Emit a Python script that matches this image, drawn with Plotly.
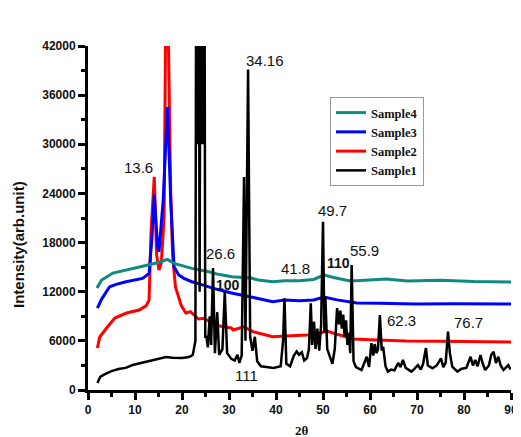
import plotly.graph_objects as go

# ---------------- data ----------------
s1_x = [2.0, 2.6, 3.5, 5.0, 6.5, 8.0, 9.5, 11.0, 13.0, 15.0, 16.6, 18.0, 20.0, 21.2, 21.8, 22.3, 22.6,
        22.85, 23.0, 23.15, 23.3, 23.45, 23.6, 23.75, 23.9, 24.05, 24.2, 24.35, 24.5, 24.65, 24.8, 24.95,
        25.2, 25.5, 25.9, 26.2, 26.6, 27.0, 27.5, 27.9, 28.6,
        29.1, 29.6, 30.5, 31.2, 31.8, 32.2, 32.7, 33.2, 33.5, 34.06, 34.5, 35.0, 35.5, 36.0, 36.8, 38.0,
        39.5, 41.0, 41.5, 41.8, 42.2, 43.0, 43.8, 44.4, 44.9, 45.5, 46.0, 46.6, 47.0, 47.4, 47.7, 48.1,
        48.4, 48.8, 49.2, 49.6, 50.0, 50.3, 50.5, 50.9, 51.4, 52.0, 52.5, 53.0, 53.4, 53.7, 54.0, 54.3,
        54.6, 54.9, 55.2, 55.5, 55.8, 56.1, 56.5, 57.0, 58.2, 59.3, 59.8, 60.3, 60.7, 61.0, 61.4, 61.7,
        62.1, 62.5, 62.8, 63.3, 63.8, 64.5, 65.2, 66.0, 66.5, 67.0, 67.6, 68.8, 69.5, 70.2, 70.8, 71.3,
        71.9, 72.3, 73.3, 74.2, 75.1, 75.6, 76.1, 76.6, 77.0, 77.5, 78.6, 79.5, 80.5, 81.4, 81.9, 82.4,
        82.9, 83.5, 84.0, 84.5, 85.3, 85.8, 86.3, 86.8, 87.3, 87.8, 88.4, 89.4, 89.9]
s1_y = [850, 1600, 1900, 2300, 2560, 2700, 3050, 3250, 3540, 3800, 4030, 3950, 3900, 4000, 4100, 4300, 5500,
        6000, 48000, 30000, 48000, 30000, 48000, 12000, 48000, 30000, 48000, 30000, 48000, 30000, 48000, 6500,
        6500, 5200, 9000, 5500, 14900, 4500, 9500, 4300, 5000,
        12000, 4500, 3800, 3600, 4300, 3300, 4200, 26000, 6000, 39140, 6500, 4800, 6500, 3500, 2900, 2800,
        2700, 2900, 6000, 11190, 3200, 2900, 4200, 4700, 4300, 4600, 3600, 3900, 5000, 10580, 5500, 8340,
        5000, 7500, 4800, 8000, 20550, 7000, 11400, 5000, 4200, 3200, 5000, 10000, 8000, 9700, 7500, 9200,
        6500, 8500, 5500, 7000, 4500, 15260, 3500, 2800, 2440, 4060, 2800, 5730, 4200, 5600, 4500, 5000,
        9150, 4800, 5290, 2900, 2240, 2500, 2400, 3300, 2800, 3660, 2700, 2240, 2600, 3050, 2500, 3200,
        5120, 3000, 2650, 3000, 3870, 2800, 3300, 7120, 4500, 2850, 2240, 2600, 2700, 4060, 3000, 3660,
        2900, 4270, 3200, 2440, 3000, 4300, 4680, 3300, 4060, 3000, 2440, 3050, 2500]

s2_x = [2.0, 2.5, 4.0, 5.7, 8.2, 10.9, 12.4, 13.0, 13.4, 14.1, 14.6, 15.1, 15.6, 16.2, 16.5, 17.1, 17.6,
        18.0, 18.6, 19.8, 20.8, 21.8, 23.5, 24.6, 26.0, 27.1, 28.8, 30.5, 30.9, 33.0, 33.4, 35.1, 36.2,
        39.3, 42.0, 46.7, 49.0, 50.9, 53.0, 56.5, 60.0, 63.0, 67.7, 75.0, 82.0, 90.0]
s2_y = [5130, 6470, 7600, 8790, 9400, 9760, 10300, 10990, 19130, 26030, 16500, 14650, 15500, 21150, 43000, 43000, 24000,
        16500, 12610, 10370, 9400, 9560, 8670, 8750, 8340, 7930, 7730, 7570, 7320, 7690, 7650, 7120, 6960,
        6510, 6600, 6710, 6900, 7200, 6800, 6220, 6150, 6050, 5980, 5950, 5900, 5860]

s3_x = [2.0, 2.9, 4.6, 6.0, 8.1, 10.0, 11.6, 13.0, 13.6, 14.1, 14.8, 15.1, 16.0, 16.9, 17.6, 18.3, 19.3,
        20.4, 22.1, 24.0, 26.7, 29.5, 30.5, 34.4, 39.3, 41.8, 45.0, 48.0, 50.2, 53.0, 57.2, 62.0, 69.8,
        78.0, 90.0]
s3_y = [10000, 11100, 12610, 12900, 13220, 13400, 13630, 14240, 18500, 23890, 17490, 16880, 23190, 34580, 23190, 15050, 14040,
        13630, 13220, 12900, 12410, 12000, 11840, 11390, 10780, 10985, 10900, 11000, 11350, 11000, 10620, 10600, 10500,
        10520, 10500]

s4_x = [1.9, 2.9, 5.3, 8.1, 11.6, 13.7, 15.5, 16.9, 18.3, 20.4, 22.1, 25.7, 27.7, 30.6, 34.7, 36.2, 39.3,
        41.8, 45.0, 48.0, 50.2, 52.5, 55.8, 59.0, 63.5, 68.0, 75.0, 82.0, 90.0]
s4_y = [12450, 13430, 14280, 14650, 15050, 15380, 15660, 15950, 15460, 15100, 14850, 14440, 14120, 13830, 13670, 13430, 13220,
        13340, 13350, 13500, 14040, 13700, 13300, 13400, 13550, 13300, 13400, 13250, 13180]

series_names = ["Sample1", "Sample2", "Sample3", "Sample4"]

x_ticks = [0, 10, 20, 30, 40, 50, 60, 70, 80, 90]
y_ticks = [0, 6000, 12000, 18000, 24000, 30000, 36000, 42000]

label_text = ["001", "16.8", "24.2", "34.16", "13.6", "26.6", "100", "41.8", "110", "49.7",
              "55.9", "62.3", "76.7", "111"]
label_x = [19.34, 18.92, 26.07, 37.74, 10.72, 28.17, 29.86, 44.15, 53.2, 52.1,
           58.87, 66.65, 80.95, 33.64]
label_y = [45100, 43090, 43090, 40280, 27220, 16720, 12820, 14890, 15500, 21970,
           17090, 8540, 8300, 1830]
label_bold = [False, False, False, False, False, False, True, False, True, False,
              False, False, False, False]

# ---------------- figure ----------------
SANS = "Liberation Sans, Arial, sans-serif"
SERIF = "Liberation Serif, Times New Roman, serif"

fig = go.Figure()
styles = {
    "Sample2": dict(color="#ff0000", width=3),
    "Sample3": dict(color="#0000ff", width=3),
    "Sample4": dict(color="#0e8a80", width=3),
    "Sample1": dict(color="#000000", width=2.5),
}
data = {"Sample1": (s1_x, s1_y), "Sample2": (s2_x, s2_y),
        "Sample3": (s3_x, s3_y), "Sample4": (s4_x, s4_y)}
rank = {"Sample4": 1, "Sample3": 2, "Sample2": 3, "Sample1": 4}
for name in ["Sample2", "Sample3", "Sample4", "Sample1"]:
    xs, ys = data[name]
    fig.add_trace(go.Scatter(x=xs, y=ys, mode="lines", name=name,
                             line=styles[name], legendrank=rank[name]))

for t, x, y, b in zip(label_text, label_x, label_y, label_bold):
    fig.add_annotation(x=x, y=y, xref="x", yref="y", text=t, showarrow=False,
                       font=dict(family=SANS, size=14 if b else 15, color="#111",
                                 weight="bold" if b else "normal"),
                       xanchor="center", yanchor="middle")

# the page body has an 8px margin, so the figure is offset by 8px
W, H = 513, 429
ML, MT, MR, MB = 80, 38, 10, 47
PW, PH = W - ML - MR, H - MT - MB

# axis titles
fig.add_annotation(x=(11 - ML) / PW, y=(H - MB - 237) / PH, xref="paper", yref="paper",
                   text="Intensity(arb.unit)", textangle=-90, showarrow=False,
                   font=dict(family=SANS, size=15, color="#111", weight="bold"),
                   xanchor="center", yanchor="middle")
fig.add_annotation(x=(294 - ML) / PW, y=(H - MB - 422) / PH, xref="paper", yref="paper",
                   text="2θ", showarrow=False,
                   font=dict(family=SERIF, size=13, color="#111", weight="bold"),
                   xanchor="center", yanchor="middle")

fig.update_layout(
    width=W, height=H,
    margin=dict(l=ML, r=MR, t=MT, b=MB, autoexpand=False),
    paper_bgcolor="white", plot_bgcolor="white",
    showlegend=True,
    legend=dict(x=(322 - ML) / PW, y=(H - MB - 89) / PH, xanchor="left", yanchor="top",
                bordercolor="#999", borderwidth=1, bgcolor="white",
                font=dict(family=SERIF, size=12.5, color="#111", weight="bold"),
                itemwidth=30, tracegroupgap=0),
)
fig.update_xaxes(range=[0, 90], tickvals=x_ticks, ticktext=[str(v) for v in x_ticks],
                 showgrid=False, zeroline=False, automargin=False, ticklabeloverflow="allow",
                 showline=True, linecolor="black", linewidth=3,
                 ticks="outside", ticklen=7, tickwidth=2.5, tickcolor="black",
                 tickfont=dict(family=SANS, size=12, color="#111", weight="bold"),
                 minor=dict(ticks="outside", dtick=5, ticklen=4, tickwidth=2.5, tickcolor="black"))
fig.update_yaxes(range=[0, 42000], tickvals=y_ticks, ticktext=[str(v) for v in y_ticks],
                 showgrid=False, zeroline=False, automargin=False, ticklabeloverflow="allow",
                 showline=True, linecolor="black", linewidth=3,
                 ticks="outside", ticklen=7, tickwidth=2.5, tickcolor="black",
                 tickfont=dict(family=SANS, size=12, color="#111", weight="bold"),
                 minor=dict(ticks="outside", dtick=3000, ticklen=4, tickwidth=2.5, tickcolor="black"))

fig.write_html("out.html")
